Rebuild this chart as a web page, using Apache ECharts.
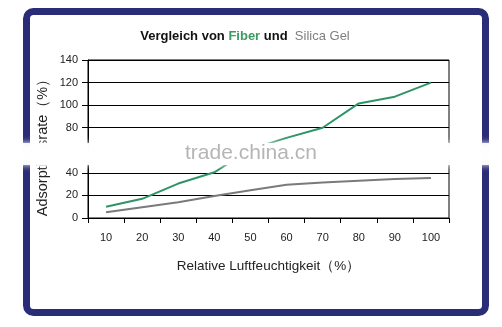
<!DOCTYPE html>
<html><head><meta charset="utf-8">
<script src="https://cdn.jsdelivr.net/npm/echarts@6/dist/echarts.min.js"></script>
<style>html,body{margin:0;padding:0;background:#fff}#c{width:502px;height:327px}</style>
</head><body><div id="c"></div>
<script>
const categories = ['10','20','30','40','50','60','70','80','90','100'];
const fiber = [10, 17, 30.5, 40.5, 61, 71, 80, 101.5, 107.5, 120];
const silica = [5, 9.5, 14, 19.5, 24.5, 29.5, 31.5, 33, 34.5, 35.5];
const yTicks = [0, 20, 40, 60, 80, 100, 120, 140];

const chart = echarts.init(document.getElementById('c'), null, {renderer: 'canvas'});
const font = "'Liberation Sans', Arial, sans-serif";
chart.setOption({
  backgroundColor: '#fff',
  animation: false,
  title: {
    text: '{a|Vergleich von }{f|Fiber}{a| und  }{s|Silica Gel}',
    left: 240, top: 25, textAlign: 'center',
    textStyle: {
      rich: {
        a: {fontFamily: font, fontSize: 13, fontWeight: 'bold', color: '#111'},
        f: {fontFamily: font, fontSize: 13, fontWeight: 'bold', color: '#3c9a62'},
        s: {fontFamily: font, fontSize: 13, fontWeight: 'normal', color: '#808080'}
      }
    }
  },
  grid: {left: 88, right: 53, top: 60, bottom: 109, show: true, borderColor: '#000', borderWidth: 1},
  xAxis: {
    type: 'category', data: categories, boundaryGap: true,
    name: 'Relative Luftfeuchtigkeit（%）', nameLocation: 'middle', nameGap: 41,
    nameTextStyle: {fontFamily: font, fontSize: 13.5, color: '#222'},
    axisLine: {lineStyle: {color: '#000'}},
    axisTick: {show: true, length: 5, lineStyle: {color: '#000'}},
    axisLabel: {fontFamily: font, fontSize: 11, color: '#222', margin: 14},
    splitLine: {show: false}
  },
  yAxis: {
    type: 'value', min: yTicks[0], max: yTicks[yTicks.length-1], interval: 20,
    axisLine: {show: true, lineStyle: {color: '#000'}},
    axisTick: {show: true, length: 6, lineStyle: {color: '#000'}},
    axisLabel: {fontFamily: font, fontSize: 11, color: '#222', margin: 10},
    splitLine: {show: true, lineStyle: {color: '#000', width: 1}}
  },
  series: [
    {name: 'Fiber', type: 'line', data: fiber, symbol: 'none', lineStyle: {color: '#2e9466', width: 2}, z: 3},
    {name: 'Silica Gel', type: 'line', data: silica, symbol: 'none', lineStyle: {color: '#7a7a7a', width: 2}, z: 2}
  ],
  graphic: [
    {type: 'text', x: 43, y: 144, rotation: Math.PI / 2,
     style: {text: 'Adsorptionsrate（%）', fontFamily: font, fontSize: 14.5, fill: '#222',
             align: 'center', verticalAlign: 'middle'}, z: 50},
    {type: 'rect', shape: {x: 26.5, y: 11.5, width: 459, height: 301, r: 7},
     style: {fill: 'none', stroke: '#2b2c78', lineWidth: 7}, z: 100},
    {type: 'rect', shape: {x: 0, y: 143, width: 502, height: 22},
     style: {fill: 'rgba(255,255,255,0.93)', shadowBlur: 6, shadowColor: '#fff'}, z: 101},
    {type: 'text', left: 185, top: 143,
     style: {text: 'trade.china.cn', fontFamily: font, fontSize: 21, fill: '#b5b5b5'}, z: 102}
  ]
});
</script>
</body></html>
